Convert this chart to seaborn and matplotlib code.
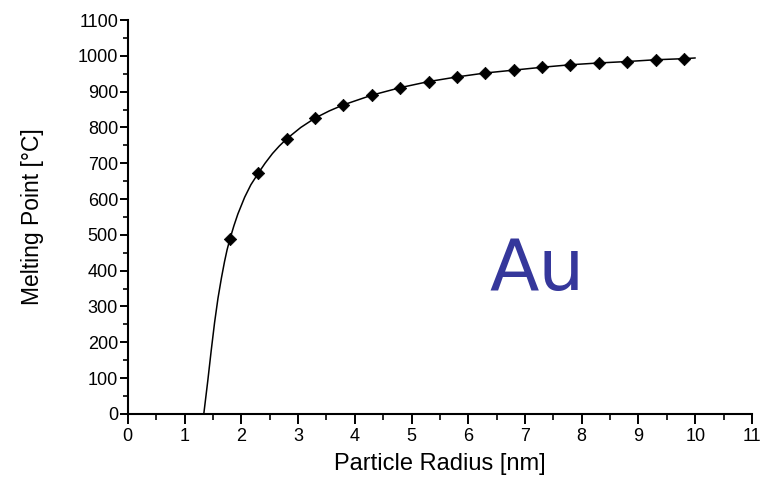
import numpy as np
import pandas as pd
import matplotlib
matplotlib.use("Agg")
import matplotlib.pyplot as plt
from matplotlib.ticker import MultipleLocator
import seaborn as sns

# Measured melting points of gold particles
radius = [1.8, 2.3, 2.8, 3.3, 3.8, 4.3, 4.8, 5.3, 5.8, 6.3, 6.8, 7.3, 7.8, 8.3, 8.8, 9.3, 9.8]
melting = [488, 672, 768, 826, 863, 890, 911, 928, 941, 952, 960, 968, 975, 980, 984, 989, 992]

# Fitted curve through the measurements
curve_r = [1.34, 1.41, 1.47, 1.53, 1.59, 1.65, 1.705, 1.75, 1.80, 1.87, 1.94, 2.06, 2.17, 2.30,
           2.42, 2.55, 2.67, 2.80, 3.05, 3.30, 3.55, 3.80, 4.30, 4.80, 5.30, 5.80, 6.30, 6.80,
           7.30, 7.80, 8.30, 8.80, 9.30, 9.80, 10.0]
curve_t = [0, 92, 176, 255, 323, 379, 425, 458, 488, 525, 558, 605, 640, 672,
           700, 727, 748, 768, 800, 826, 846, 863, 890, 911, 928, 941, 952, 960,
           968, 975, 980, 984, 989, 992, 994]

x_ticks = list(range(0, 12))
y_ticks = list(range(0, 1101, 100))

sns.set_style("ticks")
plt.rcParams["font.family"] = ["Liberation Sans", "DejaVu Sans"]

fig = plt.figure(figsize=(7.65, 4.88), dpi=100)
ax = fig.add_axes([0.167, 0.152, 0.816, 0.807])

curve = pd.DataFrame({"r": curve_r, "t": curve_t})
points = pd.DataFrame({"r": radius, "t": melting})

sns.lineplot(data=curve, x="r", y="t", sort=False, estimator=None,
             color="black", linewidth=1.1, ax=ax)
sns.scatterplot(data=points, x="r", y="t", marker="D", s=40,
                color="black", edgecolor="black", linewidth=0.5, zorder=3, ax=ax)

ax.set_xlim(0, 11)
ax.set_ylim(0, 1100)
ax.set_xticks(x_ticks)
ax.set_yticks(y_ticks)
ax.xaxis.set_minor_locator(MultipleLocator(0.5))
ax.yaxis.set_minor_locator(MultipleLocator(50))

sns.despine(ax=ax)
for side in ("left", "bottom"):
    ax.spines[side].set_linewidth(1.5)
    ax.spines[side].set_color("black")

ax.tick_params(axis="x", which="major", direction="out", length=7, width=1.4,
               labelsize=13, pad=3, colors="black")
ax.tick_params(axis="x", which="minor", direction="out", length=4, width=1.2, colors="black")
ax.tick_params(axis="y", which="major", direction="out", length=5.5, width=1.4,
               labelsize=13, pad=1.5, colors="black")
ax.tick_params(axis="y", which="minor", direction="out", length=3.5, width=1.2, colors="black")

ax.set_xlabel("Particle Radius [nm]", fontsize=17, labelpad=6, color="black")
ax.set_ylabel("Melting Point [°C]", fontsize=16.5, labelpad=24, color="black")

ax.text(6.38, 346, "Au", fontsize=52, color="#35379b", family="DejaVu Sans",
        ha="left", va="baseline")

fig.savefig("out.png", dpi=100)
